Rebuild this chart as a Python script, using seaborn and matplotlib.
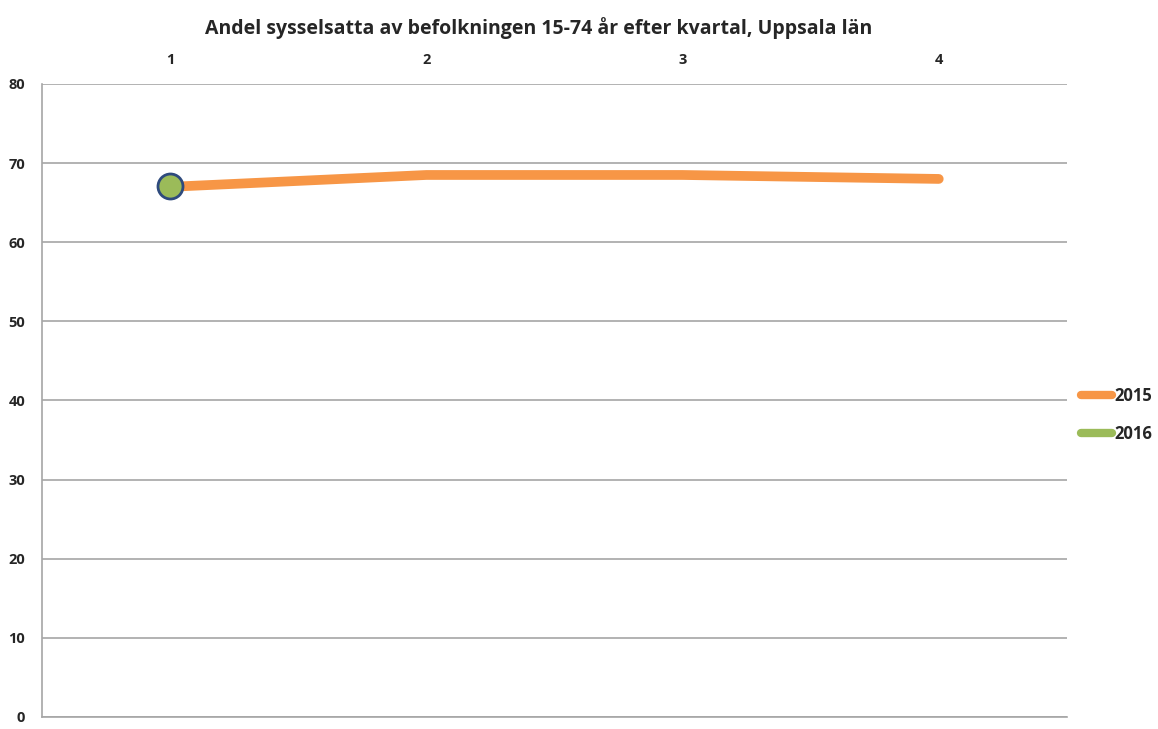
import pandas as pd
import matplotlib.pyplot as plt
import seaborn as sns
from matplotlib.lines import Line2D

quarters = [1, 2, 3, 4]
values_2015 = [67.0, 68.5, 68.5, 68.0]
quarters_2016 = [1]
values_2016 = [67.1]
title = "Andel sysselsatta av befolkningen 15-74 år efter kvartal, Uppsala län"

df15 = pd.DataFrame({"Kvartal": quarters, "Andel": values_2015})
df16 = pd.DataFrame({"Kvartal": quarters_2016, "Andel": values_2016})

sns.set_style("white")
plt.rcParams['font.family'] = ['Open Sans', 'DejaVu Sans']
plt.rcParams['font.weight'] = 'bold'

fig = plt.figure(figsize=(11.58, 7.29), dpi=100)
ax = fig.add_axes([0.0363, 0.0165, 0.885, 0.8683])

orange = "#F79646"
green = "#9BBB59"

sns.lineplot(data=df15, x="Kvartal", y="Andel", ax=ax, color=orange, linewidth=7,
             solid_capstyle="round", solid_joinstyle="round")
sns.lineplot(data=df16, x="Kvartal", y="Andel", ax=ax, color=green, marker="o",
             markersize=18, markeredgecolor="#2E4A7D", markeredgewidth=2, linewidth=0)

ax.set_xlim(0.5, 4.5)
ax.set_ylim(0, 80)
ax.set_yticks(range(0, 81, 10))
ax.set_xticks(quarters)
ax.xaxis.tick_top()
ax.tick_params(axis="x", length=0, pad=12, labelsize=10.5)
ax.tick_params(axis="y", length=0, pad=12, labelsize=10.5)
ax.set_xlabel("")
ax.set_ylabel("")
ax.yaxis.grid(True, color="#A6A6A6", linewidth=1.2)
ax.set_axisbelow(True)
for s in ["top", "right"]:
    ax.spines[s].set_visible(False)
ax.spines["left"].set_color("#A6A6A6")
ax.spines["bottom"].set_color("#A6A6A6")
ax.spines["left"].set_linewidth(1.2)
ax.spines["bottom"].set_linewidth(1.2)

fig.suptitle(title, x=0.465, y=0.977, fontsize=14, fontweight="bold")

handles = [Line2D([0], [0], color=orange, linewidth=6, solid_capstyle="round"),
           Line2D([0], [0], color=green, linewidth=6, solid_capstyle="round")]
fig.legend(handles, ["2015", "2016"], loc="center left", bbox_to_anchor=(0.926, 0.431),
           frameon=False, handlelength=1.9, handletextpad=0.1, labelspacing=1.2,
           borderpad=0, prop={"weight": "bold", "size": 12})

fig.savefig("out.png", dpi=100)
